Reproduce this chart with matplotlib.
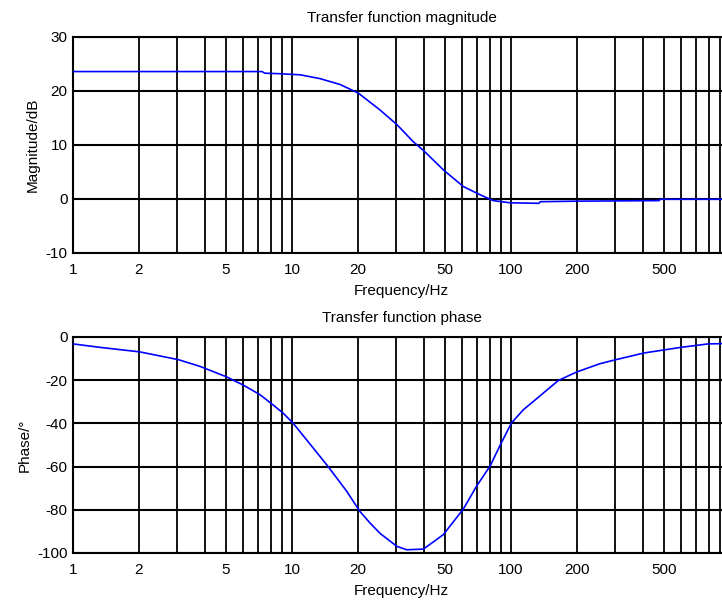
import numpy as np
import matplotlib
matplotlib.use("Agg")
import matplotlib.pyplot as plt
from matplotlib.ticker import FixedLocator, LogLocator, FuncFormatter, NullFormatter

plt.rcParams["font.family"] = ["Liberation Sans", "DejaVu Sans"]
plt.rcParams["axes.unicode_minus"] = False

# magnitude response (dB) sampled along frequency (Hz)
mag_freq = [1, 2, 5, 7.3, 7.5, 8.8, 10.9, 13.4, 16.6, 20.1, 25.2, 30.1, 35.8,
            39.8, 49.1, 60.6, 72.1, 83, 99, 134, 136, 200, 474, 480, 1000]
mag_db = [23.6, 23.6, 23.6, 23.6, 23.3, 23.2, 23.0, 22.3, 21.2, 19.6, 16.5,
          13.8, 10.6, 9.0, 5.4, 2.3, 0.8, -0.3, -0.7, -0.8, -0.5, -0.4, -0.3,
          -0.05, -0.05]

# phase response (degrees)
ph_freq = [1.0, 1.33, 2.02, 3.03, 3.8, 5.04, 6.0, 7.14, 8.07, 9.1, 10.1, 12.5,
           14.6, 17.8, 20.4, 22.7, 25.3, 30.1, 33.4, 39.8, 49.1, 60.6, 69.6,
           80.4, 89.4, 100.5, 113.8, 126.6, 164.6, 199.5, 254, 301, 405, 596,
           794, 1000]
ph_deg = [-3.2, -4.8, -6.9, -10.5, -13.6, -18.5, -22.3, -26.7, -30.9, -35.2,
          -39.8, -51.4, -59.9, -71.5, -80.7, -86.1, -91.0, -96.9, -98.5,
          -98.2, -91.5, -79.6, -69.1, -59.6, -49.9, -39.8, -33.7, -29.8,
          -20.1, -16.2, -12.4, -10.5, -7.4, -4.8, -3.2, -3.0]

xticks = [1, 2, 5, 10, 20, 50, 100, 200, 500]

fig = plt.figure(figsize=(7.22, 6.01), dpi=100)
W, H = 722, 601
FS = 11


def make_axes(top, bottom):
    # axes box in pixels; right edge runs slightly past the figure
    return fig.add_axes([73 / W, (H - bottom) / H, (730 - 73) / W, (bottom - top) / H])


def style(ax, ylim, yticks, title, ylabel):
    ax.set_xscale("log")
    ax.set_xlim(1, 1000)
    ax.set_ylim(*ylim)
    ax.set_yticks(yticks)
    ax.xaxis.set_major_locator(FixedLocator(xticks))
    ax.xaxis.set_major_formatter(FuncFormatter(lambda v, p: f"{v:g}"))
    ax.xaxis.set_minor_locator(LogLocator(base=10, subs=np.arange(2, 10)))
    ax.xaxis.set_minor_formatter(NullFormatter())
    ax.grid(True, which="both", axis="x", color="black", lw=1.3)
    ax.grid(True, which="major", axis="y", color="black", lw=1.5)
    ax.tick_params(which="both", length=0, labelsize=FS)
    ax.tick_params(axis="x", pad=7)
    ax.tick_params(axis="y", pad=4)
    for s in ax.spines.values():
        s.set_linewidth(1.5)
    ax.set_title(title, fontsize=FS, pad=11)
    ax.set_xlabel("Frequency/Hz", fontsize=FS, labelpad=5)
    ax.set_ylabel(ylabel, fontsize=FS, labelpad=4)


ax1 = make_axes(37, 253)
ax1.plot(mag_freq, mag_db, color="#0000ff", lw=1.2, zorder=3)
style(ax1, (-10, 30), [-10, 0, 10, 20, 30], "Transfer function magnitude", "Magnitude/dB")

ax2 = make_axes(337, 553)
ax2.plot(ph_freq, ph_deg, color="#0000ff", lw=1.2, zorder=3)
style(ax2, (-100, 0), [-100, -80, -60, -40, -20, 0], "Transfer function phase", "Phase/°")

fig.savefig("out.png", dpi=100)
